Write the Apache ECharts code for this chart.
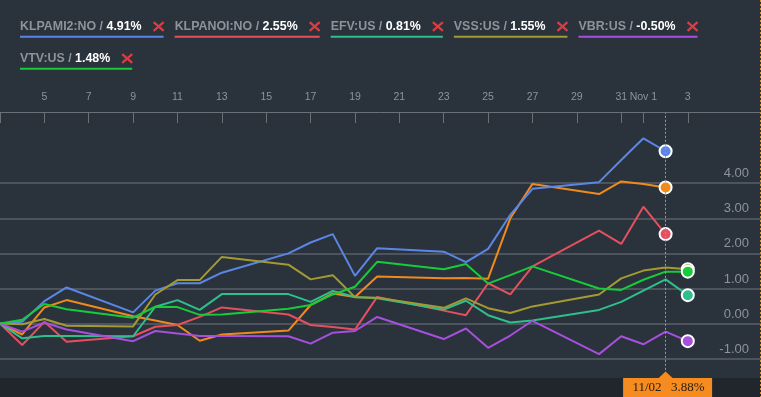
<!DOCTYPE html>
<html><head><meta charset="utf-8">
<script src="https://cdn.jsdelivr.net/npm/echarts@6/dist/echarts.min.js"></script>
<style>html,body{margin:0;padding:0;background:#2a323c;overflow:hidden}#c{width:761px;height:397px}</style>
</head><body><div id="c"></div>
<script>
// ---- data ----
const dates = ['2017-10-03','2017-10-04','2017-10-05','2017-10-06','2017-10-09','2017-10-10','2017-10-11','2017-10-12','2017-10-13',
  '2017-10-16','2017-10-17','2017-10-18','2017-10-19','2017-10-20','2017-10-23','2017-10-24','2017-10-25','2017-10-26','2017-10-27',
  '2017-10-30','2017-10-31','2017-11-01','2017-11-02','2017-11-03'];
const mainValues = [0,-0.31,0.46,0.67,0.21,0.09,-0.04,-0.49,-0.31,-0.20,0.53,0.86,0.76,1.34,1.29,1.30,1.28,3.00,3.98,3.69,4.05,3.98,3.88,null];
const klpami2 = [0,0.05,0.64,1.03,0.32,0.94,1.15,1.15,1.45,2.00,2.31,2.55,1.36,2.15,2.05,1.75,2.13,3.10,3.84,4.03,4.66,5.28,4.91,null];
const klpanoi = [0,-0.61,0.05,-0.52,-0.36,-0.09,-0.04,0.19,0.46,0.26,-0.04,-0.10,-0.17,0.76,0.37,0.24,1.15,0.83,1.63,2.65,2.27,3.33,2.55,null];
const efv = [0,-0.42,-0.35,-0.35,-0.36,0.48,0.67,0.39,0.84,0.84,0.62,0.93,0.76,0.72,0.40,0.65,0.24,0.03,0.09,0.39,0.62,0.94,1.26,0.81];
const vss = [0,-0.02,0.13,-0.06,-0.08,0.83,1.24,1.24,1.90,1.68,1.26,1.38,0.75,0.74,0.45,0.72,0.44,0.30,0.49,0.83,1.29,1.51,1.60,1.55];
const vbr = [0,-0.23,0.03,-0.17,-0.50,-0.21,-0.28,-0.35,-0.35,-0.36,-0.57,-0.26,-0.21,0.19,-0.44,-0.14,-0.69,-0.34,0.08,-0.87,-0.36,-0.59,-0.23,-0.50];
const vtv = [0,0.11,0.56,0.41,0.17,0.48,0.47,0.25,0.26,0.42,0.53,0.83,1.05,1.76,1.55,1.70,1.14,1.38,1.63,1.00,0.96,1.25,1.48,1.48];
const legendNames = ['KLPAMI2:NO','KLPANOI:NO','EFV:US','VSS:US','VBR:US','VTV:US'];
const legendValues = [klpami2, klpanoi, efv, vss, vbr, vtv];
const xTickDates = ['2017-10-03','2017-10-05','2017-10-07','2017-10-09','2017-10-11','2017-10-13','2017-10-15','2017-10-17','2017-10-19',
  '2017-10-21','2017-10-23','2017-10-25','2017-10-27','2017-10-29','2017-10-31','2017-11-01','2017-11-03'];
const xLabelDates = xTickDates.slice(1);
const yTickLabels = [-1,0,1,2,3,4];
const monthNames = ['Jan','Feb','Mar','Apr','May','Jun','Jul','Aug','Sep','Oct','Nov','Dec'];

// ---- styles ----
const mainColor = '#f18a1c';
const legendColors = ['#5b86e5','#e4505f','#2ebf8c','#a39a32','#a650dd','#17cc3a'];
const gray = '#8e9399';
const gridColor = '#5a6068';

const base = Date.UTC(2017,9,3), DAY = 864e5;
const toX = s => { const [y,m,d] = s.split('-').map(Number); return (Date.UTC(y,m-1,d) - base) / DAY; };
const fromX = v => new Date(base + Math.round(v) * DAY);

function buildData(vals, color){
  let last = -1; vals.forEach((v,i)=>{ if(v!=null) last=i; });
  const out = [];
  vals.forEach((v,i)=>{
    if (v==null) return;
    const item = {value:[toX(dates[i]), v]};
    if (i===last){ item.symbol='circle'; item.symbolSize=12; item.itemStyle={color:color,borderColor:'#ffffff',borderWidth:2}; }
    out.push(item);
  });
  return out;
}
function mkSeries(name, vals, color, extra){
  return Object.assign({type:'line', name:name, data:buildData(vals,color), symbol:'none', showSymbol:true,
    lineStyle:{width:2,color:color}, itemStyle:{color:color}, silent:true, animation:false, emphasis:{disabled:true}}, extra||{});
}
const lastMainIdx = mainValues.reduce((a,v,i)=>v!=null?i:a,-1);
const series = [mkSeries('main', mainValues, mainColor, {
  markLine:{silent:true, symbol:'none', animation:false, label:{show:false},
    lineStyle:{color:'#e0901f', type:[2,2], width:1}, data:[{xAxis: toX(dates[lastMainIdx])}]}
})];
legendNames.forEach((n,i)=>series.push(mkSeries(n, legendValues[i], legendColors[i])));

const yAll = []; for (let t=-2;t<=6;t++) yAll.push(t);
const splitColors = yAll.map(t => yTickLabels.includes(t) ? gridColor : 'rgba(0,0,0,0)');

const chart = echarts.init(document.getElementById('c'), null, {renderer:'canvas'});
chart.setOption({
  backgroundColor:'#2a323c',
  animation:false,
  grid:{left:0,right:0,top:113,bottom:3.2,containLabel:false},
  xAxis:{type:'value', position:'top', min:0, max:34.3, offset:1,
    axisLine:{show:true, onZero:false, lineStyle:{color:'#6b7076', width:1}},
    axisTick:{show:true, inside:true, length:11, customValues:xTickDates.map(toX), lineStyle:{color:'#6b7076', width:1}},
    axisLabel:{show:true, customValues:xLabelDates.map(toX), margin:9, color:gray, fontSize:10.5, fontFamily:'"Liberation Sans", Arial, sans-serif',
      formatter:v=>{ const d = fromX(v); return d.getUTCDate()===1 ? monthNames[d.getUTCMonth()]+' 1' : String(d.getUTCDate()); }},
    splitLine:{show:false}},
  yAxis:{type:'value', position:'right', min:-2, max:6, interval:1,
    axisLine:{show:false}, axisTick:{show:false},
    axisLabel:{inside:true, margin:12, color:gray, fontSize:13, fontFamily:'"Liberation Sans", Arial, sans-serif',
      verticalAlign:'bottom', lineHeight:13, padding:[0,0,3,0],
      formatter:v=> yTickLabels.includes(v) ? v.toFixed(2) : ''},
    splitLine:{show:true, lineStyle:{color:splitColors, width:1.5}}},
  series:series
});

// ---- overlay: legend, bottom band, tooltip ----
const ctx = document.createElement('canvas').getContext('2d');
const font = 'bold 12.4px "Liberation Sans", Arial, sans-serif';
const tw = s => { ctx.font = font; return ctx.measureText(s).width; };
const g = [];
let lx = 20, row = 0;
legendNames.forEach((n,i)=>{
  const vals = legendValues[i];
  const lastV = vals.reduce((a,v)=>v!=null?v:a, null);
  const namePart = n + ' / ';
  const valPart = lastV.toFixed(2) + '%';
  const w1 = tw(namePart), w2 = tw(valPart);
  const total = w1 + w2 + 12 + 10;
  if (lx + total > 740){ lx = 20; row++; }
  const cy = 26.5 + row*32;
  g.push({type:'text', z:100, style:{text:namePart, x:lx, y:cy, font:font, fill:gray, verticalAlign:'middle', align:'left'}});
  g.push({type:'text', z:100, style:{text:valPart, x:lx+w1, y:cy, font:font, fill:'#ffffff', verticalAlign:'middle', align:'left'}});
  const xs = lx + w1 + w2 + 12;
  g.push({type:'line', z:100, shape:{x1:xs, y1:cy-4.3, x2:xs+10, y2:cy+4.3}, style:{stroke:'#e23b3f', lineWidth:2.2}});
  g.push({type:'line', z:100, shape:{x1:xs, y1:cy+4.3, x2:xs+10, y2:cy-4.3}, style:{stroke:'#e23b3f', lineWidth:2.2}});
  g.push({type:'rect', z:100, shape:{x:lx, y:cy+9.2, width:total, height:2}, style:{fill:legendColors[i]}});
  lx += total + 11;
});
// bottom band
g.push({type:'rect', z:100, shape:{x:0, y:378, width:761, height:19}, style:{fill:'#20262c'}});
// tooltip at last main point
const px = chart.convertToPixel({xAxisIndex:0}, toX(dates[lastMainIdx]));
g.push({type:'rect', z:101, shape:{x:px-42.5, y:378, width:89, height:19}, style:{fill:'#f68b1f'}});
g.push({type:'polygon', z:101, shape:{points:[[px-7.5,378.5],[px,371.5],[px+7.5,378.5]]}, style:{fill:'#f68b1f'}});
const ld = new Date(dates[lastMainIdx]+'T00:00:00Z');
const dstr = String(ld.getUTCMonth()+1).padStart(2,'0') + '/' + String(ld.getUTCDate()).padStart(2,'0');
const tfont = '13px "Liberation Serif", "DejaVu Serif", serif';
g.push({type:'text', z:102, style:{text:dstr, x:px-4, y:388, font:tfont, fill:'#2a2016', align:'right', verticalAlign:'middle'}});
g.push({type:'text', z:102, style:{text:mainValues[lastMainIdx].toFixed(2)+'%', x:px+5.3, y:388, font:tfont, fill:'#2a2016', align:'left', verticalAlign:'middle'}});
// right edge dotted line
g.push({type:'line', z:100, shape:{x1:760.5, y1:0, x2:760.5, y2:397}, style:{stroke:'#e0901f', lineWidth:1, lineDash:[2,2]}});
chart.setOption({graphic:{elements:g}});
</script></body></html>
